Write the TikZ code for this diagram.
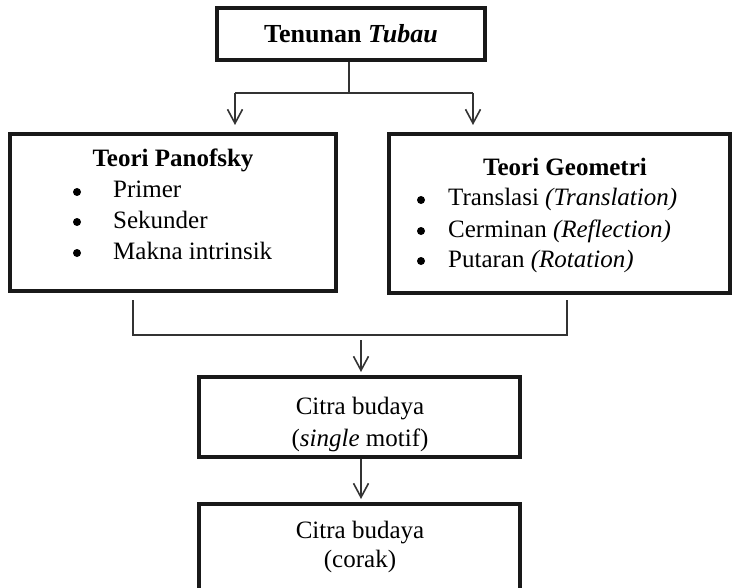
\documentclass[tikz,border=0pt]{standalone}
\usepackage{fontspec}
\setmainfont{Liberation Serif}
\usetikzlibrary{arrows.meta}
\tikzset{
  box/.style={draw=black!90, line width=4bp},
  conn/.style={draw=black!80, line width=1.4bp},
  arr/.style={conn, -{Straight Barb[length=14bp,width=15bp,line width=1.6bp]}},
  txt/.style={inner sep=0pt, anchor=base, font=\fontsize{25bp}{30bp}\selectfont},
  ttl/.style={inner sep=0pt, anchor=base, font=\fontsize{25bp}{30bp}\selectfont\bfseries},
  big/.style={inner sep=0pt, anchor=base, font=\fontsize{26bp}{31bp}\selectfont\bfseries},
  bul/.style={circle, fill, inner sep=0pt, minimum size=8bp},
}
\begin{document}
\begin{tikzpicture}[x=1bp,y=-1bp]
\useasboundingbox (0,0) rectangle (734,588);
% boxes
\draw[box] (217,8) rectangle (485,60);
\coordinate (topB) at (349,62);
\node[big] (t0) at (351,43) {Tenunan \textit{Tubau}};

\draw[box] (10,134) rectangle (336,291);
\node[ttl] (lh) at (173,167) {Teori Panofsky};
\node[bul] (lb1) at (77,192) {};
\node[bul] (lb2) at (77,222) {};
\node[bul] (lb3) at (77,253) {};
\node[txt, anchor=base west] (l1) at (113,198) {Primer};
\node[txt, anchor=base west] (l2) at (113,228) {Sekunder};
\node[txt, anchor=base west] (l3) at (113,259) {Makna intrinsik};

\draw[box] (389,134) rectangle (730,293);
\node[ttl] (rh) at (565,176) {Teori Geometri};
\node[bul] (rb1) at (421,200) {};
\node[bul] (rb2) at (421,231) {};
\node[bul] (rb3) at (421,261) {};
\node[txt, anchor=base west] (r1) at (448,206) {Translasi \textit{(Translation)}};
\node[txt, anchor=base west] (r2) at (448,237) {Cerminan \textit{(Reflection)}};
\node[txt, anchor=base west] (r3) at (448,267) {Putaran \textit{(Rotation)}};

\draw[box] (199,377) rectangle (520,457);
\node[txt] (m1) at (360,414) {Citra budaya};
\node[txt] (m2) at (360,446) {(\textit{single} motif)};

\draw[box] (199,504) rectangle (520,600);
\node[txt] (c1) at (360,538) {Citra budaya};
\node[txt] (c2) at (360,567) {(corak)};

% connectors
\coordinate (split) at (349,93);
\coordinate (lB) at (133,300);
\coordinate (rB) at (567,300);
\draw[conn] (topB) -- (split);
\draw[conn] (235,93) -- (473,93);
\draw[arr] (235,93) -- (235,125);
\draw[arr] (473,93) -- (473,125);
\draw[conn] (lB) -- (133,335) -- (567,335) -- (rB);
\draw[arr] (361,340) -- (361,372);
\draw[arr] (361,459) -- (361,499);
\end{tikzpicture}
\end{document}
